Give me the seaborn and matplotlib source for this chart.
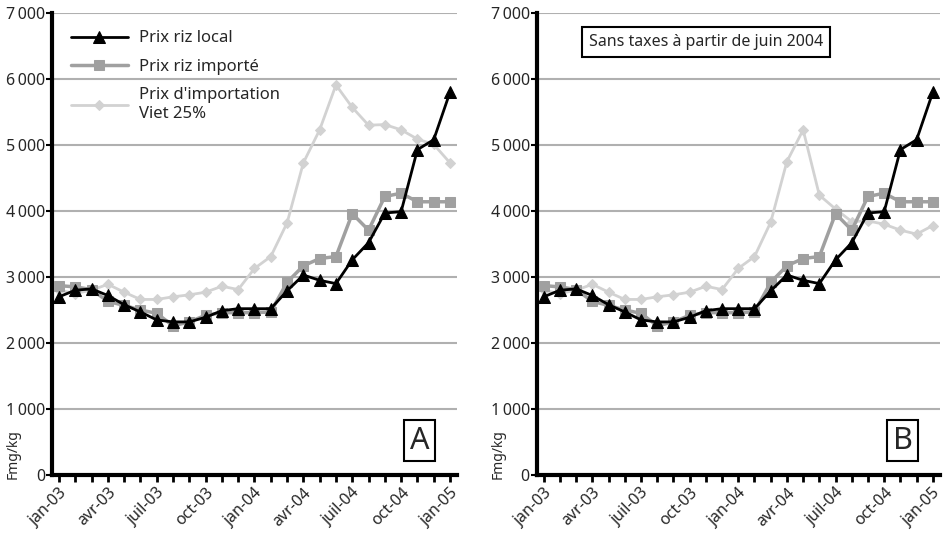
import numpy as np
import pandas as pd
import matplotlib
matplotlib.use("Agg")
import matplotlib.pyplot as plt
import seaborn as sns

# monthly series, jan-03 .. jan-05 (Fmg/kg)
months = ["jan-03", "fév-03", "mar-03", "avr-03", "mai-03", "juin-03", "juil-03",
          "août-03", "sep-03", "oct-03", "nov-03", "déc-03", "jan-04", "fév-04",
          "mar-04", "avr-04", "mai-04", "juin-04", "juil-04", "août-04", "sep-04",
          "oct-04", "nov-04", "déc-04", "jan-05"]

prix_local = [2700, 2800, 2820, 2720, 2580, 2470, 2350, 2320, 2320, 2390, 2490,
              2520, 2520, 2520, 2790, 3030, 2950, 2900, 3260, 3520, 3970, 3990,
              4930, 5080, 5800]

prix_importe = [2870, 2850, 2810, 2630, 2570, 2500, 2450, 2260, 2320, 2420, 2460,
                2460, 2460, 2470, 2920, 3170, 3280, 3310, 3960, 3710, 4220, 4270,
                4140, 4140, 4140]

viet_a = [2800, 2750, 2800, 2890, 2770, 2660, 2660, 2700, 2730, 2770, 2860,
          2810, 3130, 3310, 3820, 4730, 5230, 5910, 5570, 5300, 5310, 5230,
          5090, 5010, 4730]

viet_b = [2800, 2750, 2800, 2890, 2770, 2660, 2660, 2700, 2730, 2770, 2860,
          2810, 3130, 3310, 3830, 4750, 5230, 4240, 4030, 3840, 3850, 3800,
          3710, 3650, 3780]

labels = ["Prix riz local", "Prix riz importé", "Prix d'importation\nViet 25%"]
panel_names = ["A", "B"]

sns.set_theme(style="white")
plt.rcParams["font.family"] = ["Noto Sans", "DejaVu Sans"]

fig = plt.figure(figsize=(9.45, 5.36), dpi=100)
ax_a = fig.add_axes([0.055, 0.1138, 0.4286, 0.8619])
ax_b = fig.add_axes([0.568, 0.1138, 0.4265, 0.8619])

styles = [
    dict(color="black", marker="^", markersize=8, linewidth=2.0),
    dict(color="#a0a0a0", marker="s", markersize=6.5, linewidth=2.5),
    dict(color="#d2d2d2", marker="D", markersize=5.5, linewidth=2.0),
]

x = np.arange(len(months))


def fmt_thousands(v):
    s = f"{int(v):,}".replace(",", "\u2009")
    return s


for ax, viet, name in zip([ax_a, ax_b], [viet_a, viet_b], panel_names):
    df = pd.DataFrame({"x": x, labels[0]: prix_local, labels[1]: prix_importe,
                       labels[2]: viet})
    # draw lightest first so black sits on top
    for i in [2, 1, 0]:
        st = styles[i]
        sns.lineplot(data=df, x="x", y=labels[i], ax=ax, color=st["color"],
                     marker=st["marker"], markersize=st["markersize"],
                     linewidth=st["linewidth"], markeredgecolor=st["color"],
                     label=labels[i], zorder=3 + (2 - i))

    ax.set_xlim(-0.43, len(months) - 1 + 0.43)
    ax.set_ylim(0, 7000)
    yt = np.arange(0, 7001, 1000)
    ax.set_yticks(yt)
    ax.set_yticklabels([fmt_thousands(v) for v in yt], fontsize=11.5)
    ax.set_xticks(x)
    ax.set_xticklabels([m if i % 3 == 0 else "" for i, m in enumerate(months)],
                       rotation=45, ha="right", rotation_mode="anchor", fontsize=11.5)
    for yv in yt[1:]:
        ax.axhline(yv, color="#b0b0b0", linewidth=1.5, zorder=1)
    ax.grid(False)
    for s in ["top", "right"]:
        ax.spines[s].set_visible(False)
    for s in ["left", "bottom"]:
        ax.spines[s].set_linewidth(3)
        ax.spines[s].set_color("black")
    ax.tick_params(axis="x", direction="out", length=5, width=2, pad=2, color="black", bottom=True)
    ax.tick_params(axis="y", direction="out", length=4, width=1.5, pad=1, color="black", left=True)
    ax.set_xlabel("")
    ax.set_ylabel("Fmg/kg", fontsize=10)
    ax.yaxis.set_label_coords(-0.097, 0.045)
    ax.yaxis.label.set_va("center")

    ax.text(0.908, 0.074, name, transform=ax.transAxes, fontsize=22,
            ha="center", va="center",
            bbox=dict(boxstyle="square,pad=0.18", facecolor="white",
                      edgecolor="black", linewidth=1.5), zorder=6)

# legend on A only
h, l = ax_a.get_legend_handles_labels()
order = [l.index(t) for t in labels]
ax_a.legend([h[i] for i in order], [l[i] for i in order], loc="upper left",
            bbox_to_anchor=(0.01, 0.995), frameon=False, fontsize=12,
            handlelength=3.4, handletextpad=0.7, labelspacing=0.75)
ax_b.get_legend().remove()

ax_b.text(0.42, 0.937, "Sans taxes à partir de juin 2004", transform=ax_b.transAxes,
          fontsize=11.5, ha="center", va="center",
          bbox=dict(boxstyle="square,pad=0.45", facecolor="white",
                    edgecolor="black", linewidth=1.5), zorder=6)

fig.savefig("out.png", dpi=100)
